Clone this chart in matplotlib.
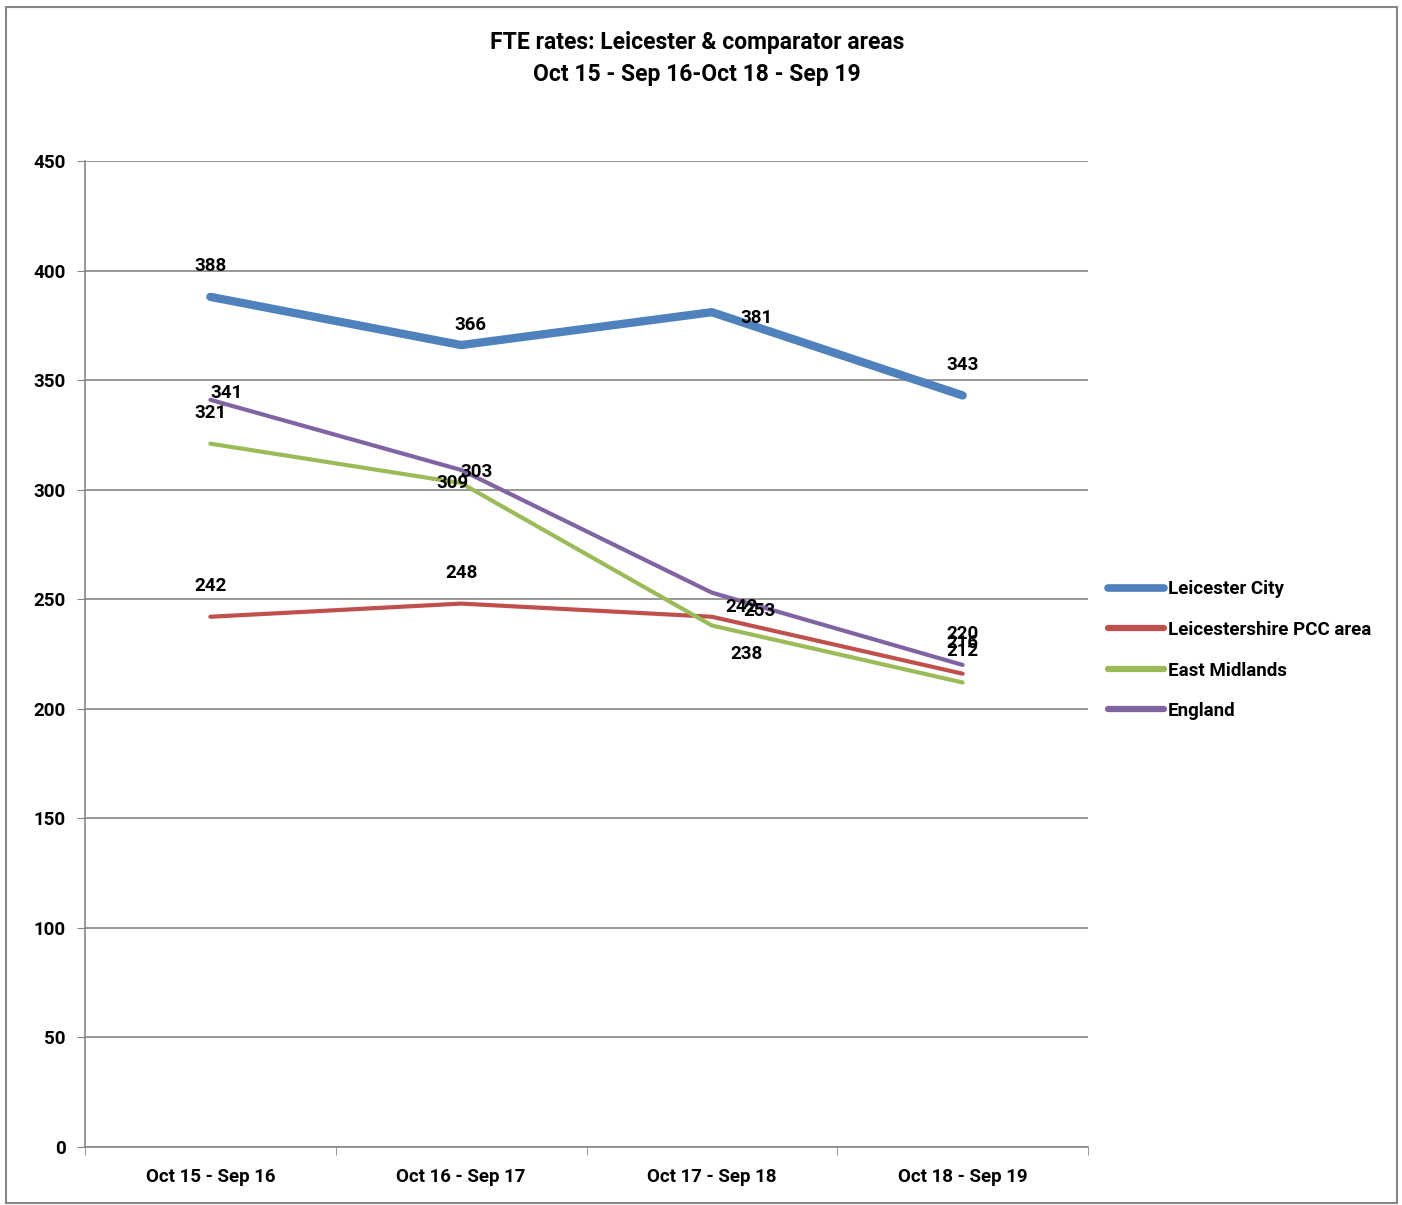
import matplotlib
matplotlib.use("Agg")
import matplotlib.pyplot as plt
from matplotlib.patches import Rectangle

categories = ["Oct 15 - Sep 16", "Oct 16 - Sep 17", "Oct 17 - Sep 18", "Oct 18 - Sep 19"]
series_names = ["Leicester City", "Leicestershire PCC area", "East Midlands", "England"]
leicester_city = [388, 366, 381, 343]
pcc_area = [242, 248, 242, 216]
east_midlands = [321, 303, 238, 212]
england = [341, 309, 253, 220]
colors = ["#4F81BD", "#C0504D", "#9BBB59", "#8064A2"]
widths = [6.0, 3.0, 3.0, 3.0]
# label offsets in pixels (dx, dy) relative to each point
label_offsets = [
    [(0, 31), (9, 20), (45, -6), (0, 30)],
    [(0, 31), (0, 31), (30, 10), (0, 31)],
    [(0, 31), (15, 11), (35, -28), (0, 31)],
    [(16, 7), (-9, -13), (48, -18), (0, 31)],
]
yticks = [0, 50, 100, 150, 200, 250, 300, 350, 400, 450]

all_series = [leicester_city, pcc_area, east_midlands, england]

plt.rcParams['font.family'] = ['Roboto', 'DejaVu Sans']
fig = plt.figure(figsize=(14.02, 12.05), dpi=100)
W, H = 1402, 1205
ax = fig.add_axes([85 / W, 1 - 1147 / H, (1088 - 85) / W, (1147 - 161) / H])

x = list(range(len(categories)))
for i, (name, vals) in enumerate(zip(series_names, all_series)):
    ax.plot(x, vals, color=colors[i], lw=widths[i], label=name,
            solid_capstyle='round', solid_joinstyle='round', zorder=3 + (i == 0))

for i, vals in enumerate(all_series):
    for j, v in enumerate(vals):
        dx, dy = label_offsets[i][j]
        ax.annotate(str(v), (x[j], v), xytext=(dx, dy), textcoords='offset pixels',
                    ha='center', va='center', fontsize=13.5, fontweight='bold', zorder=10)

ax.set_xlim(-0.5, 3.5)
ax.set_ylim(0, 450)
ax.set_yticks(yticks)
ax.set_yticklabels([str(t) for t in yticks], fontsize=13.5, fontweight='bold')
ax.set_xticks(x)
ax.set_xticklabels(categories, fontsize=13.5, fontweight='bold')
ax.set_xticks([-0.5, 0.5, 1.5, 2.5, 3.5], minor=True)
ax.tick_params(axis='x', which='major', length=0, pad=15)
ax.tick_params(axis='x', which='minor', length=6, color='#868686', direction='out')
ax.tick_params(axis='y', length=6, color='#868686', direction='out', pad=8)
ax.grid(axis='y', color='#868686', lw=1.2)
ax.set_axisbelow(True)
for s in ['top', 'right']:
    ax.spines[s].set_visible(False)
for s in ['left', 'bottom']:
    ax.spines[s].set_color('#868686')
    ax.spines[s].set_linewidth(1.2)

fig.text(697 / W, 1 - 42 / H, "FTE rates: Leicester & comparator areas", ha='center', va='center',
         fontsize=16.5, fontweight='bold')
fig.text(697 / W, 1 - 74 / H, "Oct 15 - Sep 16-Oct 18 - Sep 19", ha='center', va='center',
         fontsize=16.5, fontweight='bold')

leg = fig.legend(loc='upper left', bbox_to_anchor=(1100 / W, 1 - 573 / H), frameon=False,
                 prop={'size': 13.5, 'weight': 'bold'}, handlelength=3.0, handletextpad=0.2,
                 labelspacing=1.2, borderaxespad=0)
for h in leg.get_lines():
    h.set_linewidth(4.5)
leg.get_lines()[0].set_linewidth(5.5)

fig.patches.append(Rectangle((6 / W, 1 - 1203 / H), (1397 - 6) / W, (1203 - 7) / H,
                             transform=fig.transFigure, fill=False, edgecolor='#868686', lw=1.5))

fig.savefig("out.png", dpi=100)
